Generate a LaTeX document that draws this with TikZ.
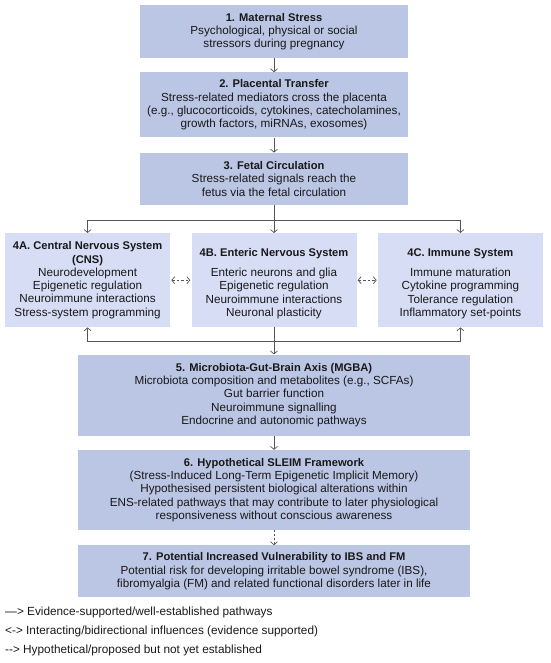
\documentclass[tikz,border=0pt]{standalone}
\usepackage{fontspec}
\setmainfont{Liberation Sans}
\usetikzlibrary{positioning,arrows.meta}

\definecolor{stepblue}{RGB}{187,197,228}
\definecolor{sysblue}{RGB}{214,221,245}
\definecolor{linkgray}{RGB}{85,85,85}
\definecolor{inkblack}{RGB}{25,25,25}

\newcommand\boxhead[1]{{\fontsize{11.15}{13.3}\selectfont\bfseries #1}}

\tikzset{
  mainbox/.style={fill=stepblue, text=inkblack, align=center, inner sep=0pt,
    minimum width=268pt, font={\fontsize{11.7}{13.3}\selectfont}},
  widebox/.style={mainbox, minimum width=392pt},
  sysbox/.style={mainbox, fill=sysblue, minimum width=165pt, minimum height=94pt},
  flow/.style={draw=linkgray, line width=0.7pt, -{Straight Barb[length=3pt,width=7pt]}},
  biflow/.style={draw=linkgray, line width=0.7pt, dash pattern=on 2.5pt off 2pt,
    {Straight Barb[length=3pt,width=7pt]}-{Straight Barb[length=3pt,width=7pt]}, shorten <=1pt, shorten >=1pt},
  keytext/.style={anchor=west, inner sep=0pt, text=inkblack, font={\fontsize{11.8}{13.3}\selectfont}}
}

\begin{document}
\begin{tikzpicture}[x=1pt,y=1pt]
\useasboundingbox (0,0) rectangle (550,-663);

% main chain
\node[mainbox, minimum height=53pt] (stress) at (274,-31.5)
  {\boxhead{1. Maternal Stress}\\Psychological, physical or social\\stressors during pregnancy};
\node[mainbox, minimum height=65pt, below=14pt of stress] (placenta)
  {\boxhead{2. Placental Transfer}\\Stress-related mediators cross the placenta\\(e.g., glucocorticoids, cytokines, catecholamines,\\growth factors, miRNAs, exosomes)};
\node[mainbox, minimum height=52pt, below=15pt of placenta] (fetal)
  {\boxhead{3. Fetal Circulation}\\Stress-related signals reach the\\fetus via the fetal circulation};

% target systems
\node[sysbox, below=28pt of fetal] (ens)
  {\rule{0pt}{14.8pt}\boxhead{4B. Enteric Nervous System}\\[6.65pt]Enteric neurons and glia\\Epigenetic regulation\\Neuroimmune interactions\\Neuronal plasticity};
\node[sysbox, left=21pt of ens] (cns)
  {\boxhead{4A. Central Nervous System}\\\boxhead{(CNS)}\\Neurodevelopment\\Epigenetic regulation\\Neuroimmune interactions\\Stress-system programming};
\node[sysbox, right=21pt of ens] (immune)
  {\rule{0pt}{14.8pt}\boxhead{4C. Immune System}\\[6.65pt]Immune maturation\\Cytokine programming\\Tolerance regulation\\Inflammatory set-points};

\node[widebox, minimum height=81pt, below=27pt of ens] (mgba)
  {\boxhead{5. Microbiota-Gut-Brain Axis (MGBA)}\\Microbiota composition and metabolites (e.g., SCFAs)\\Gut barrier function\\Neuroimmune signalling\\Endocrine and autonomic pathways};
\node[widebox, minimum height=80pt, below=14pt of mgba] (sleim)
  {\boxhead{6. Hypothetical SLEIM Framework}\\(Stress-Induced Long-Term Epigenetic Implicit Memory)\\Hypothesised persistent biological alterations within\\ENS-related pathways that may contribute to later physiological\\responsiveness without conscious awareness};
\node[widebox, minimum height=52pt, below=15pt of sleim] (risk)
  {\boxhead{7. Potential Increased Vulnerability to IBS and FM}\\Potential risk for developing irritable bowel syndrome (IBS),\\fibromyalgia (FM) and related functional disorders later in life};

% connectors
\draw[flow] (stress) -- (placenta);
\draw[flow] (placenta) -- (fetal);
\coordinate[below=15pt of fetal] (fork);
\coordinate[below=14pt of ens] (merge);
\draw[flow] (fetal) -- (ens);
\draw[flow] (fork) -| (cns);
\draw[flow] (fork) -| (immune);
\draw[biflow] (cns) -- (ens);
\draw[biflow] (ens) -- (immune);
\draw[flow] (ens) -- (mgba);
\draw[flow] (merge) -| (cns);
\draw[flow] (merge) -| (immune);
\draw[flow] (mgba) -- (sleim);
\draw[flow, dash pattern=on 2pt off 2pt] (sleim) -- (risk);

% key
\node[keytext] (key1) at (5,-612) {—> Evidence-supported/well-established pathways};
\node[keytext] (key2) at (5,-631) {<-> Interacting/bidirectional influences (evidence supported)};
\node[keytext] (key3) at (5,-650) {-{}-{}> Hypothetical/proposed but not yet established};
\end{tikzpicture}
\end{document}
